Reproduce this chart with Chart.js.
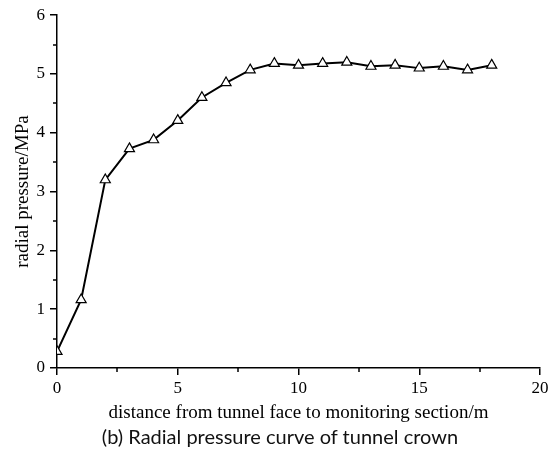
<!DOCTYPE html>
<html>
<head>
<meta charset="utf-8">
<script src="https://cdn.jsdelivr.net/npm/chart.js@4"></script>
<style>
html,body{margin:0;padding:0;background:#fff;}
#wrap{position:relative;width:552px;height:450px;}
#caption{position:absolute;left:0;top:424px;width:560px;text-align:center;font-family:Lato,sans-serif;font-size:20px;line-height:25px;color:#111;}
</style>
</head>
<body>
<div id="wrap">
<canvas id="c" width="552" height="450"></canvas>
<div id="caption">(b) Radial pressure curve of tunnel crown</div>
</div>
<script>
// distance from tunnel face (m) and radial pressure at the crown (MPa)
let distance=[0,1,2,3,4,5,6,7,8,9,10,11,12,13,14,15,16,17,18];
let pressure=[0.28,1.16,3.2,3.73,3.88,4.21,4.6,4.85,5.07,5.18,5.15,5.18,5.2,5.13,5.15,5.1,5.13,5.07,5.15];

let xTitle="distance from tunnel face to monitoring section/m";
let yTitle="radial pressure/MPa";

let points=[];
for(let i=0;i<distance.length;i++){
points.push({x:distance[i],y:pressure[i]});
}

/* minor ticks, halfway between the labelled ones */
let minorTicks={
id:"minorTicks",
afterDraw(chart){
let ctx=chart.ctx;
let xs=chart.scales.x;
let ys=chart.scales.y;
ctx.save();
ctx.strokeStyle="#000";
ctx.lineWidth=1.5;
ctx.beginPath();
for(let v=2.5;v<20;v+=5){
let px=Math.round(xs.getPixelForValue(v));
ctx.moveTo(px,ys.bottom);
ctx.lineTo(px,ys.bottom+4);
}
for(let v=0.5;v<6;v+=1){
let py=Math.round(ys.getPixelForValue(v));
ctx.moveTo(xs.left,py);
ctx.lineTo(xs.left-4,py);
}
ctx.stroke();
ctx.restore();
}
};

new Chart(document.getElementById("c"),{
type:"scatter",
data:{
datasets:[{
data:points,
showLine:true,
borderColor:"#000",
borderWidth:2,
pointStyle:"triangle",
pointRadius:5.8,
pointBackgroundColor:"#fff",
pointBorderColor:"#000",
pointBorderWidth:1.2,
tension:0
}]
},
options:{
responsive:false,
animation:false,
layout:{padding:{top:14,right:12,left:0,bottom:26}},
plugins:{
legend:{display:false},
tooltip:{enabled:false}
},
scales:{
x:{
type:"linear",
min:0,max:20,
afterFit(s){s.height=56;},
border:{display:true,color:"#000",width:1.5},
grid:{drawOnChartArea:false,color:"#000",lineWidth:1.5,tickLength:7},
ticks:{stepSize:5,color:"#000",padding:3,font:{family:"Liberation Serif",size:17}},
title:{display:true,text:xTitle,color:"#000",font:{family:"Liberation Serif",size:19},padding:{top:0,bottom:0}}
},
y:{
min:0,max:6,
afterFit(s){s.width=57;},
border:{display:true,color:"#000",width:1.5},
grid:{drawOnChartArea:false,color:"#000",lineWidth:1.5,tickLength:7},
ticks:{stepSize:1,color:"#000",padding:5,font:{family:"Liberation Serif",size:17}},
title:{display:true,text:yTitle,color:"#000",font:{family:"Liberation Serif",size:19},padding:{top:12,bottom:0}}
}
}
},
plugins:[minorTicks]
});
</script>
</body>
</html>
